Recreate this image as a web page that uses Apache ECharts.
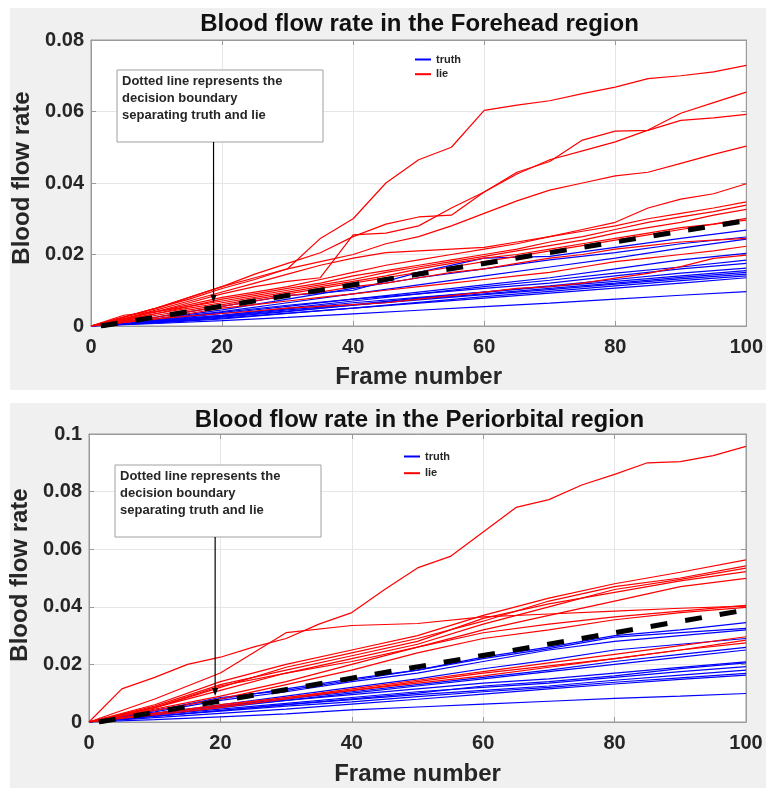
<!DOCTYPE html>
<html><head><meta charset="utf-8">
<script src="https://cdn.jsdelivr.net/npm/echarts@6/dist/echarts.min.js"></script>
<style>html,body{margin:0;padding:0;background:#fff}#c{width:766px;height:789px}</style>
</head><body><div id="c"></div>
<script>
// ---------- data ----------
const frames21 = [0,5,10,15,20,25,30,35,40,45,50,55,60,65,70,75,80,85,90,95,100];
const frames11 = [0,10,20,30,40,50,60,70,80,90,100];
const xTicks = [0,20,40,60,80,100];
const yTicksForehead = [0,0.02,0.04,0.06,0.08];
const yTicksPeriorbital = [0,0.02,0.04,0.06,0.08,0.1];

const foreheadTitle = 'Blood flow rate in the Forehead region';
const periorbitalTitle = 'Blood flow rate in the Periorbital region';
const xName = 'Frame number';
const yName = 'Blood flow rate';
const noteText = ['Dotted line represents the', 'decision boundary', 'separating truth and lie'];

// lie (red) curves, forehead, sampled every 5 frames
const foreheadLie = [
  [0,0.0025,0.005,0.008,0.011,0.0135,0.016,0.0245,0.030,0.040,0.0465,0.050,0.0603,0.0618,0.063,0.065,0.0668,0.0692,0.070,0.0711,0.0729],
  [0,0.0025,0.005,0.008,0.011,0.0145,0.0175,0.0205,0.025,0.0285,0.0305,0.031,0.0375,0.0425,0.0465,0.049,0.0515,0.0548,0.0595,0.0625,0.0654],
  [0,0.002,0.004,0.0065,0.009,0.011,0.0125,0.0135,0.0255,0.026,0.028,0.033,0.0375,0.043,0.046,0.052,0.0545,0.0547,0.0575,0.0582,0.0592],
  [0,0.0025,0.005,0.0075,0.0105,0.013,0.016,0.018,0.020,0.023,0.025,0.028,0.0315,0.035,0.038,0.040,0.042,0.043,0.0455,0.048,0.0503],
  [0,0.002,0.0045,0.007,0.0095,0.012,0.0145,0.017,0.019,0.0205,0.021,0.0215,0.022,0.0235,0.025,0.027,0.029,0.033,0.0355,0.037,0.0398],
  [0,0.002,0.004,0.006,0.008,0.0095,0.011,0.013,0.015,0.017,0.0185,0.020,0.0215,0.023,0.025,0.0265,0.028,0.030,0.0315,0.033,0.0347],
  [0,0.0015,0.0035,0.0055,0.0075,0.009,0.0105,0.012,0.014,0.0155,0.017,0.0185,0.020,0.0215,0.0235,0.025,0.027,0.029,0.0305,0.032,0.0338],
  [0,0.003,0.004,0.0055,0.007,0.0085,0.010,0.0115,0.013,0.015,0.0165,0.018,0.0195,0.021,0.0225,0.024,0.026,0.0275,0.029,0.031,0.0326],
  [0,0.0015,0.003,0.0045,0.006,0.0075,0.009,0.0105,0.012,0.0135,0.015,0.0165,0.018,0.0195,0.021,0.0225,0.024,0.0255,0.027,0.0285,0.0301],
  [0,0.0018,0.0035,0.005,0.0065,0.008,0.0095,0.011,0.0125,0.014,0.016,0.0175,0.019,0.020,0.0215,0.023,0.0245,0.026,0.0275,0.0285,0.0296],
  [0,0.0012,0.0025,0.004,0.0055,0.007,0.0085,0.0095,0.011,0.012,0.0135,0.015,0.016,0.0175,0.019,0.020,0.0215,0.0225,0.0235,0.024,0.0245],
  [0,0.001,0.002,0.0035,0.005,0.006,0.007,0.008,0.009,0.010,0.011,0.012,0.013,0.014,0.015,0.0165,0.018,0.019,0.020,0.021,0.0223],
  [0,0.001,0.002,0.0028,0.0035,0.0042,0.005,0.0055,0.006,0.0065,0.0075,0.0085,0.0095,0.0105,0.011,0.012,0.0134,0.0147,0.0166,0.0189,0.0198]
];
// truth (blue) curves, forehead, sampled every 10 frames
const foreheadTruth = [
  [0,0.0025,0.0055,0.0085,0.010,0.015,0.019,0.0195,0.022,0.0245,0.0268],
  [0,0.002,0.0045,0.0075,0.0105,0.0135,0.016,0.0185,0.0205,0.023,0.0249],
  [0,0.0018,0.004,0.0065,0.009,0.0115,0.014,0.0165,0.019,0.0218,0.0243],
  [0,0.0015,0.0035,0.0055,0.0075,0.0095,0.0115,0.0135,0.016,0.0185,0.0203],
  [0,0.0015,0.003,0.005,0.007,0.009,0.011,0.0128,0.0148,0.0165,0.0184],
  [0,0.0018,0.0038,0.0058,0.0075,0.009,0.0105,0.012,0.014,0.016,0.0175],
  [0,0.0012,0.0028,0.0045,0.006,0.0078,0.0095,0.0112,0.013,0.0148,0.0162],
  [0,0.0014,0.003,0.0048,0.0065,0.008,0.0095,0.011,0.0125,0.014,0.0155],
  [0,0.001,0.0025,0.004,0.0058,0.0075,0.009,0.0105,0.012,0.0136,0.015],
  [0,0.0012,0.0027,0.0042,0.0058,0.0073,0.0088,0.0102,0.0117,0.0132,0.0145],
  [0,0.0009,0.002,0.0035,0.005,0.0066,0.0082,0.0097,0.0112,0.0127,0.014],
  [0,0.001,0.0022,0.0036,0.005,0.0064,0.0078,0.0092,0.0106,0.012,0.0135],
  [0,0.0007,0.0015,0.0024,0.0034,0.0044,0.0054,0.0064,0.0075,0.0086,0.0096]
];
const foreheadBoundary = [[1.5,0],[100,0.0295]];
const foreheadArrowTip = [18.7, 0.0065];

const periorbitalLie = [
  [0,0.0115,0.0155,0.020,0.0225,0.026,0.029,0.034,0.038,0.046,0.0535,0.0575,0.066,0.0745,0.0772,0.0823,0.086,0.090,0.0904,0.0925,0.0957],
  [0,0.008,0.017,0.031,0.0335,0.0342,0.0365,0.0375,0.0385,0.0395,0.0402],
  [0,0.006,0.014,0.020,0.025,0.030,0.037,0.043,0.048,0.052,0.0563],
  [0,0.005,0.012,0.019,0.024,0.029,0.035,0.042,0.047,0.050,0.0542],
  [0,0.005,0.011,0.017,0.022,0.027,0.034,0.040,0.046,0.0495,0.0534],
  [0,0.0055,0.013,0.018,0.023,0.028,0.036,0.041,0.045,0.049,0.0522],
  [0,0.005,0.0125,0.017,0.021,0.026,0.032,0.037,0.042,0.047,0.0499],
  [0,0.004,0.008,0.013,0.018,0.024,0.029,0.032,0.0355,0.038,0.0398],
  [0,0.0045,0.009,0.014,0.020,0.026,0.031,0.034,0.0365,0.0385,0.0405],
  [0,0.003,0.0055,0.0085,0.0115,0.0145,0.0175,0.0205,0.0235,0.0265,0.0296],
  [0,0.0025,0.005,0.008,0.011,0.014,0.017,0.0195,0.022,0.025,0.0284],
  [0,0.003,0.006,0.0085,0.011,0.0135,0.016,0.019,0.022,0.025,0.0275]
];
const periorbitalTruth = [
  [0,0.004,0.0085,0.011,0.0145,0.018,0.0225,0.026,0.030,0.032,0.0345],
  [0,0.004,0.008,0.0115,0.015,0.018,0.022,0.0255,0.0295,0.031,0.0325],
  [0,0.0035,0.0075,0.0105,0.014,0.017,0.021,0.025,0.028,0.030,0.032],
  [0,0.003,0.006,0.009,0.012,0.015,0.0185,0.0215,0.025,0.027,0.029],
  [0,0.003,0.0055,0.008,0.0105,0.013,0.0155,0.018,0.021,0.0235,0.0259],
  [0,0.0025,0.005,0.0075,0.010,0.0125,0.015,0.0175,0.020,0.0225,0.025],
  [0,0.003,0.0055,0.0075,0.0095,0.0115,0.0135,0.015,0.017,0.019,0.0209],
  [0,0.002,0.004,0.006,0.008,0.010,0.0125,0.014,0.016,0.0185,0.0205],
  [0,0.0025,0.0045,0.0065,0.0085,0.0105,0.012,0.0135,0.0155,0.0175,0.0192],
  [0,0.002,0.004,0.006,0.0078,0.0095,0.011,0.0125,0.0145,0.0163,0.018],
  [0,0.002,0.0038,0.0055,0.007,0.0088,0.0105,0.012,0.0138,0.0153,0.0169],
  [0,0.0015,0.003,0.0045,0.0062,0.0079,0.0097,0.0115,0.0132,0.0148,0.0163],
  [0,0.0008,0.0018,0.0028,0.0042,0.0052,0.0062,0.0072,0.0082,0.009,0.0099]
];
const periorbitalBoundary = [[1.5,0],[100,0.0389]];
const periorbitalArrowTip = [19.2, 0.0090];

// ---------- chart ----------
const FONT = "'Liberation Sans', Arial, Helvetica, sans-serif";
const TXT = '#262626';
const AX = '#9a9a9a';
const RED = '#ff0000', BLUE = '#0000ff';
const chart = echarts.init(document.getElementById('c'), null, {renderer:'canvas'});

const grids = [
  {left:91, top:40, width:657, height:286},
  {left:89, top:434, width:657, height:288}
];

function axisPair(gi, isX, ticks, labelMargin, nameGap, namePad) {
  const base = {
    type:'value', gridIndex:gi, min:ticks[0], max:ticks[ticks.length-1],
    interval: ticks[1]-ticks[0],
    axisLine:{show:true, onZero:false, lineStyle:{color:AX, width:1}},
    axisTick:{show:true, inside:true, length:5, lineStyle:{color:AX}},
  };
  const main = Object.assign({}, base, {
    position: isX ? 'bottom' : 'left',
    axisLabel:{show:true, margin:labelMargin, color:TXT, fontFamily:FONT, fontWeight:'bold', fontSize:20,
      formatter: v => String(+(+v).toFixed(2))},
    splitLine:{show:true, lineStyle:{color:'#e6e6e6', width:1}},
    name: isX ? xName : yName,
    nameLocation:'middle', nameGap:nameGap,
    nameTextStyle:{color:TXT, fontFamily:FONT, fontWeight:'bold', fontSize:24, padding:namePad}
  });
  const twin = Object.assign({}, base, {
    position: isX ? 'top' : 'right',
    axisLabel:{show:false}, splitLine:{show:false}
  });
  return [main, twin];
}

const xAxes = [...axisPair(0,true,xTicks,11,39,0), ...axisPair(1,true,xTicks,11,40,0)];
const yAxes = [...axisPair(0,false,yTicksForehead,7,52,[0,0,0,10]), ...axisPair(1,false,yTicksPeriorbital,7,50,[0,0,0,6])];

function curve(vals, name, color, gi) {
  const fr = vals.length === 21 ? frames21 : frames11;
  return {
    type:'line', name, xAxisIndex:gi*2, yAxisIndex:gi*2,
    data: fr.map((f,i)=>[f, vals[i]]),
    symbol:'none', showSymbol:false, silent:true, animation:false,
    lineStyle:{color, width:1.2}, itemStyle:{color}, z:2
  };
}
function boundary(data, gi) {
  return {
    type:'line', name:'boundary', xAxisIndex:gi*2, yAxisIndex:gi*2, data,
    symbol:'none', showSymbol:false, silent:true, animation:false,
    lineStyle:{color:'#000', width:5, type:[17,18], cap:'butt'}, z:5
  };
}

const series = [];
foreheadTruth.forEach(v=>series.push(curve(v,'truth',BLUE,0)));
foreheadLie.forEach(v=>series.push(curve(v,'lie',RED,0)));
series.push(boundary(foreheadBoundary,0));
periorbitalTruth.forEach(v=>series.push(curve(v,'truth',BLUE,1)));
periorbitalLie.forEach(v=>series.push(curve(v,'lie',RED,1)));
series.push(boundary(periorbitalBoundary,1));

function legendAt(left, top, gap) {
  return {
    data:['truth','lie'], orient:'vertical', left, top, itemGap:gap, padding:0,
    icon:'rect', itemWidth:16, itemHeight:2, selectedMode:false,
    textStyle:{color:TXT, fontFamily:FONT, fontWeight:'bold', fontSize:11}
  };
}

function titleAt(text, top) {
  return {text, left:419.5, top, padding:0, textAlign:'center',
    textStyle:{color:'#111', fontFamily:FONT, fontWeight:'bold', fontSize:24}};
}

const bgRects = [
  {type:'rect', shape:{x:0,y:0,width:766,height:8}, style:{fill:'#fff'}, silent:true},
  {type:'rect', shape:{x:0,y:0,width:10,height:789}, style:{fill:'#fff'}, silent:true},
  {type:'rect', shape:{x:0,y:390,width:766,height:13}, style:{fill:'#fff'}, silent:true},
  {type:'rect', shape:{x:0,y:788,width:766,height:1}, style:{fill:'#fff'}, silent:true}
];

chart.setOption({
  backgroundColor:'#f0f0f0',
  animation:false,
  title:[titleAt(foreheadTitle, 12.5), titleAt(periorbitalTitle, 408)],
  legend:[legendAt(415, 54, 3.7), legendAt(404, 451, 5.7)],
  grid: grids.map(g=>Object.assign({show:true, backgroundColor:'#fff', borderColor:AX, borderWidth:1}, g)),
  xAxis: xAxes,
  yAxis: yAxes,
  series,
  graphic: bgRects
});

// annotation boxes with arrows pointing at the boundary
function note(boxX, boxY, gi, tip) {
  const p = chart.convertToPixel({gridIndex:gi}, tip);
  const bw = 206, bh = 72;
  const ax = p[0];
  return [
    {type:'rect', shape:{x:boxX, y:boxY, width:bw, height:bh}, style:{fill:'#fff', stroke:'#a0a0a0', lineWidth:1}, z:10, silent:true},
    {type:'text', x:boxX+5, y:boxY+3.3, style:{text:noteText.join('\n'), fill:TXT, font:"bold 13px "+FONT, lineHeight:16.7, textVerticalAlign:'top'}, z:11, silent:true},
    {type:'line', shape:{x1:ax, y1:boxY+bh, x2:ax, y2:p[1]-7}, style:{stroke:'#000', lineWidth:1.2}, z:11, silent:true},
    {type:'polygon', shape:{points:[[ax,p[1]],[ax-3,p[1]-8],[ax+3,p[1]-8]]}, style:{fill:'#000'}, z:11, silent:true}
  ];
}
chart.setOption({graphic: bgRects.concat(note(117,70,0,foreheadArrowTip), note(115,465,1,periorbitalArrowTip))});
</script></body></html>
